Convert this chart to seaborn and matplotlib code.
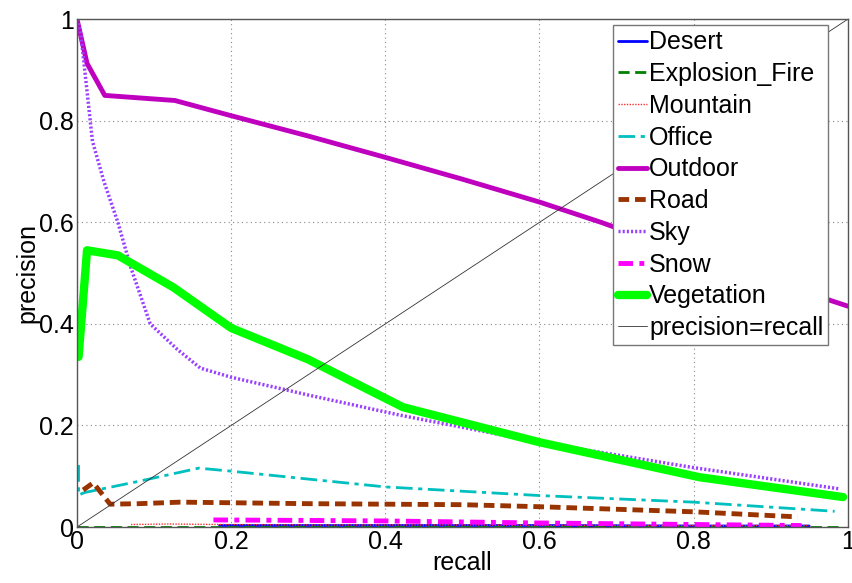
import numpy as np
import pandas as pd
import seaborn as sns
import matplotlib.pyplot as plt
from matplotlib.ticker import FuncFormatter

# values
desert_r = [0.185, 0.4, 0.6, 0.8, 0.95]
desert_p = [0.003, 0.003, 0.003, 0.002, 0.002]

fire_r = [0.0, 0.2, 0.4, 0.6, 0.8, 0.99]
fire_p = [0.001, 0.001, 0.001, 0.001, 0.001, 0.001]

mountain_r = [0.07, 0.12, 0.18, 0.3, 0.5, 0.7, 0.95]
mountain_p = [0.005, 0.006, 0.005, 0.004, 0.004, 0.003, 0.003]

office_r = [0.002, 0.002, 0.01, 0.08, 0.158, 0.2, 0.29, 0.4, 0.6, 0.8, 0.983]
office_p = [0.122, 0.063, 0.068, 0.09, 0.116, 0.11, 0.096, 0.079, 0.062, 0.049, 0.031]

outdoor_r = [0.0, 0.013, 0.036, 0.127, 0.2, 0.3, 0.4, 0.5, 0.6, 0.68, 0.8, 0.9, 1.0]
outdoor_p = [1.0, 0.913, 0.85, 0.84, 0.81, 0.77, 0.728, 0.685, 0.64, 0.6, 0.535, 0.485, 0.435]

road_r = [0.008, 0.021, 0.043, 0.08, 0.134, 0.3, 0.5, 0.6, 0.7, 0.8, 0.935]
road_p = [0.073, 0.087, 0.045, 0.046, 0.049, 0.046, 0.044, 0.04, 0.035, 0.03, 0.02]

sky_r = [0.0, 0.005, 0.01, 0.02, 0.035, 0.053, 0.07, 0.095, 0.13, 0.16, 0.2,
         0.3, 0.42, 0.6, 0.8, 0.99]
sky_p = [1.0, 0.97, 0.9, 0.76, 0.68, 0.6, 0.51, 0.4, 0.35, 0.313, 0.295,
         0.26, 0.22, 0.167, 0.117, 0.075]

snow_r = [0.177, 0.3, 0.4, 0.6, 0.8, 0.94]
snow_p = [0.014, 0.013, 0.012, 0.008, 0.005, 0.003]

veg_r = [0.002, 0.013, 0.053, 0.125, 0.2, 0.3, 0.423, 0.6, 0.808, 0.994]
veg_p = [0.335, 0.545, 0.535, 0.472, 0.392, 0.33, 0.236, 0.167, 0.098, 0.059]

diag = [0.0, 1.0]

sns.set_style("whitegrid")
plt.rcParams["font.family"] = ["Liberation Sans", "DejaVu Sans"]
plt.rcParams["text.color"] = "black"
plt.rcParams["axes.labelcolor"] = "black"
plt.rcParams["xtick.color"] = "black"
plt.rcParams["ytick.color"] = "black"

fig = plt.figure(figsize=(8.52, 5.83), dpi=100)
ax = fig.add_axes([0.0904, 0.096, 0.9046, 0.871])

series = [
    ("Desert", desert_r, desert_p, "#0000ff", "-", 2.0),
    ("Explosion_Fire", fire_r, fire_p, "#008000", (0, (4, 2)), 2.0),
    ("Mountain", mountain_r, mountain_p, "#ff3030", (0, (1, 1)), 1.0),
    ("Office", office_r, office_p, "#00bfbf", (0, (6, 2, 1.5, 2)), 2.0),
    ("Outdoor", outdoor_r, outdoor_p, "#bf00bf", "-", 3.5),
    ("Road", road_r, road_p, "#993300", (0, (2.2, 1.2)), 3.5),
    ("Sky", sky_r, sky_p, "#9a40ff", (0, (0.6, 0.6)), 2.5),
    ("Snow", snow_r, snow_p, "#ff00ff", (0, (3, 1.3, 1, 1.3)), 3.5),
    ("Vegetation", veg_r, veg_p, "#00ff00", "-", 6.0),
    ("precision=recall", diag, diag, "#333333", "-", 0.6),
]

for name, r, p, color, ls, lw in series:
    df = pd.DataFrame({"recall": r, "precision": p})
    sns.lineplot(data=df, x="recall", y="precision", ax=ax, color=color,
                 linestyle=ls, linewidth=lw, label=name, sort=False,
                 estimator=None)

ax.set_xlim(0, 1)
ax.set_ylim(0, 1)
ticks = [0, 0.2, 0.4, 0.6, 0.8, 1]
ax.set_xticks(ticks)
ax.set_yticks(ticks)
fmt = FuncFormatter(lambda v, pos: "%g" % v)
ax.xaxis.set_major_formatter(fmt)
ax.yaxis.set_major_formatter(fmt)
ax.tick_params(direction="in", length=5, labelsize=18, pad=2)
ax.grid(True, linestyle=(0, (1, 3)), color="#888888", linewidth=0.8)
for s in ax.spines.values():
    s.set_color("#555555")
    s.set_linewidth(1.0)
ax.set_xlabel("recall", fontsize=18, labelpad=-2)
ax.set_ylabel("precision", fontsize=18, labelpad=0)

leg = ax.legend(loc="upper right", bbox_to_anchor=(0.975, 0.988), fontsize=18,
                handlelength=1.15, handletextpad=0.1, labelspacing=0.31,
                borderpad=0.2, borderaxespad=0.0, fancybox=False,
                framealpha=1.0)
leg.get_frame().set_edgecolor("#777777")
leg.get_frame().set_linewidth(1.0)

fig.savefig("out.png", dpi=100)
